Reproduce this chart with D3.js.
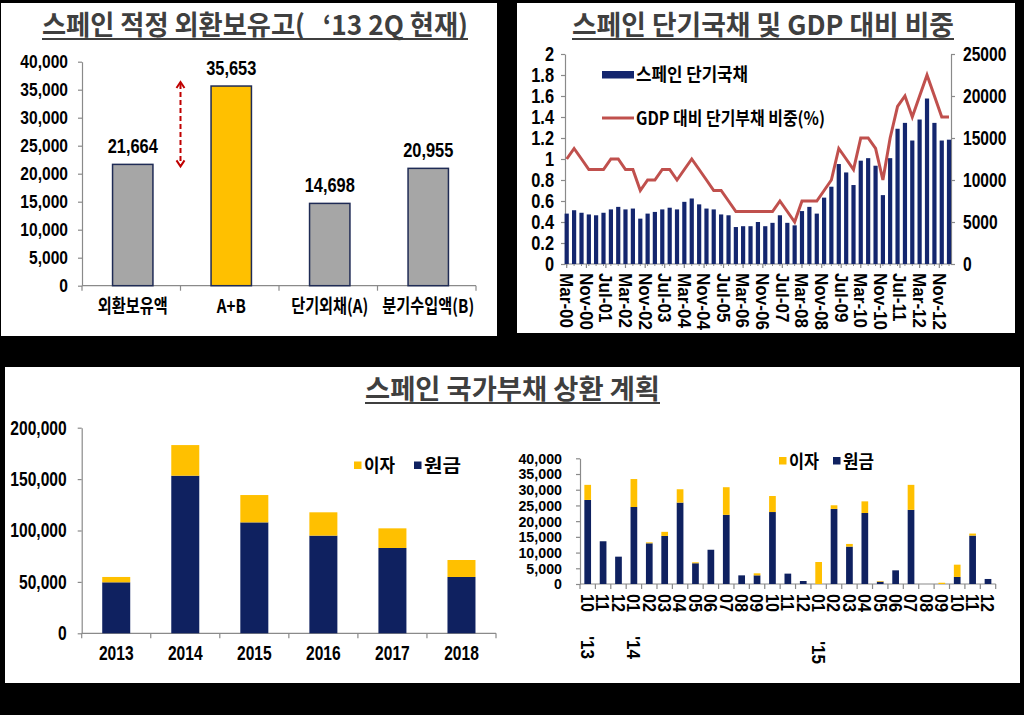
<!DOCTYPE html>
<html><head><meta charset="utf-8">
<script src="https://cdn.jsdelivr.net/npm/d3@7/dist/d3.min.js"></script>
<style>
body{margin:0;background:#000;}
svg{display:block;}
</style></head><body>
<svg id="c" width="1024" height="715"></svg>
<script>
// ---------- DATA ----------
// Panel 1: 스페인 적정 외환보유고
const fxCategories = ["외환보유액", "A+B", "단기외채(A)", "분기수입액(B)"];
const fxValues = [21664, 35653, 14698, 20955];
const fxTicks = [0, 5000, 10000, 15000, 20000, 25000, 30000, 35000, 40000];

// Panel 2: 스페인 단기국채 및 GDP 대비 비중 (quarterly, Mar-00 .. Mar-13)
const tbillLabels = ["Mar-00","Nov-00","Jul-01","Mar-02","Nov-02","Jul-03","Mar-04","Nov-04","Jul-05","Mar-06",
                     "Nov-06","Jul-07","Mar-08","Nov-08","Jul-09","Mar-10","Nov-10","Jul-11","Mar-12","Nov-12"];
const tbillStock = [6000,6400,6100,5900,5800,6100,6500,6800,6500,6600,
                    5400,6000,6200,6500,6700,6500,7400,7800,7100,6600,
                    6500,5900,5800,4400,4500,4500,5000,4500,4900,5800,
                    4900,4600,6300,6800,6000,7900,9200,11900,10900,9400,
                    12300,12600,11700,8200,12600,16100,16800,14700,17200,19700,
                    16800,14700,14800];
const gdpRatio = [1.0,1.1,1.0,0.9,0.9,0.9,1.0,1.0,0.9,0.9,
                  0.7,0.8,0.8,0.9,0.9,0.8,0.9,1.0,0.9,0.8,
                  0.7,0.7,0.6,0.5,0.5,0.5,0.5,0.5,0.5,0.6,
                  0.5,0.4,0.6,0.6,0.6,0.7,0.8,1.1,1.0,0.9,
                  1.2,1.2,1.1,0.8,1.2,1.5,1.6,1.4,1.6,1.8,
                  1.6,1.4,1.4];
const leftTicks = [0,0.2,0.4,0.6,0.8,1,1.2,1.4,1.6,1.8,2];
const rightTicks = [0,5000,10000,15000,20000,25000];

// Panel 3 left: yearly redemption
const years = ["2013","2014","2015","2016","2017","2018"];
const yearPrincipal = [49600,153300,107900,95000,83000,54800];
const yearInterest = [5200,29800,26600,22700,19100,16500];
const yearTicks = [0,50000,100000,150000,200000];

// Panel 3 right: monthly redemption Oct-13 .. Dec-15
const months = ["10","11","12","01","02","03","04","05","06","07","08","09","10","11","12",
                "01","02","03","04","05","06","07","08","09","10","11","12"];
const monthPrincipal = [26750,13600,8700,24500,12950,15300,25900,6600,10900,22000,2750,2750,22900,3300,950,
                        0,23900,11900,22600,750,4350,23600,0,0,2250,15400,1600];
const monthInterest = [4800,0,0,8900,300,1300,4250,300,0,8800,0,650,5100,0,0,
                       7000,1150,850,3700,200,0,7950,0,400,3900,650,0];
const monthTicks = [0,5000,10000,15000,20000,25000,30000,35000,40000];
const yearMarks = [{label:"'13", index:0}, {label:"'14", index:3}, {label:"'15", index:15}];

// ---------- STYLE ----------
const NUM = '"Liberation Sans",Arial,sans-serif';
const KR = '"Noto Sans CJK KR","Noto Sans CJK SC",sans-serif';
const NK = 0.82;
const NAVY = "#0f2160";
const NAVY2 = "#14266e";
const GOLD = "#ffc000";
const GRAY = "#a6a6a6";
const AXIS = "#8a8a8a";
const RED = "#c0504d";
const TITLE = "#3f3f3f";

const svg = d3.select("#c");
svg.append("rect").attr("width",1024).attr("height",715).attr("fill","#000");

function condense(sel, k){
  sel.each(function(){
    const w = this.getComputedTextLength();
    if (w > 0){ this.setAttribute("textLength", (w*k).toFixed(1)); this.setAttribute("lengthAdjust","spacingAndGlyphs"); }
  });
}
function numStyle(sel, size, k){
  sel.attr("fill","#000").style("font-family",NUM).style("font-size",(size||19)+"px").style("font-weight","bold");
  condense(sel, k||NK);
  return sel;
}
function styleAxis(g, size, k){
  g.select(".domain").attr("stroke", AXIS).attr("stroke-width",1.2);
  g.selectAll(".tick line").attr("stroke", AXIS).attr("stroke-width",1.2);
  numStyle(g.selectAll(".tick text"), size, k);
}
function title(g, text, cx, y, w){
  g.append("text").attr("x",cx).attr("y",y).attr("text-anchor","middle")
    .style("font-family",KR).style("font-size","27px").style("font-weight","bold").style("white-space","pre")
    .attr("fill",TITLE).text(text)
    .attr("textLength",w).attr("lengthAdjust","spacingAndGlyphs");
  g.append("line").attr("x1",cx-w/2).attr("x2",cx+w/2).attr("y1",y+4).attr("y2",y+4)
    .attr("stroke",TITLE).attr("stroke-width",2);
}

// ---------- PANELS ----------
svg.append("rect").attr("x",1).attr("y",3).attr("width",496).attr("height",333).attr("fill","#fff");
svg.append("rect").attr("x",517).attr("y",3).attr("width",498).attr("height",330).attr("fill","#fff");
svg.append("rect").attr("x",5).attr("y",367).attr("width",1015).attr("height",316).attr("fill","#fff");

// ---------- PANEL 1 ----------
{
  const g = svg.append("g");
  title(g, "스페인 적정 외환보유고(   ‘13 2Q 현재)", 255, 35, 426);
  const x = d3.scaleBand().domain(fxCategories).range([82,476]);
  const y = d3.scaleLinear().domain([0,40000]).range([285.7,61.7]);
  const ay = g.append("g").attr("transform","translate(82,0)")
    .call(d3.axisLeft(y).tickValues(fxTicks).tickFormat(d3.format(",")).tickSize(4).tickSizeOuter(0).tickPadding(10));
  styleAxis(ay);
  g.append("line").attr("x1",x.range()[0]).attr("x2",x.range()[1]).attr("y1",y(0)).attr("y2",y(0))
    .attr("stroke",AXIS).attr("stroke-width",1.2);
  const bounds = fxCategories.map(c=>x(c)).concat([x.range()[1]]);
  g.selectAll(".xt").data(bounds).join("line").attr("x1",d=>d).attr("x2",d=>d)
    .attr("y1",y(0)).attr("y2",y(0)+5).attr("stroke",AXIS).attr("stroke-width",1.2);
  const bw = x.bandwidth()*0.41;
  g.selectAll(".bar").data(fxCategories).join("rect")
    .attr("x",d=>x(d)+x.bandwidth()/2-bw/2+1.5).attr("width",bw)
    .attr("y",(d,i)=>y(fxValues[i])).attr("height",(d,i)=>y(0)-y(fxValues[i]))
    .attr("fill",(d,i)=>i===1?GOLD:GRAY).attr("stroke","#1f2b55").attr("stroke-width",1.5);
  numStyle(g.selectAll(".vl").data(fxCategories).join("text")
    .attr("x",d=>x(d)+x.bandwidth()/2+1.5).attr("y",(d,i)=>y(fxValues[i])-11)
    .attr("text-anchor","middle")
    .text((d,i)=>d3.format(",")(fxValues[i])), 20);
  const cl = g.selectAll(".cl").data(fxCategories).join("text")
    .attr("x",d=>x(d)+x.bandwidth()/2+1.5).attr("y",313)
    .attr("text-anchor","middle").style("font-family",KR).style("font-size","19px").style("font-weight","bold")
    .text(d=>d);
  condense(cl, 0.8);
  const ax = x(fxCategories[1]);
  const yTop = y(fxValues[1]) - 4, yBot = y(fxValues[0]) + 2;
  g.append("line").attr("x1",ax).attr("x2",ax).attr("y1",yTop+2).attr("y2",yBot-2)
    .attr("stroke","#c00000").attr("stroke-width",2).attr("stroke-dasharray","5,3");
  g.append("path").attr("d",`M${ax-4},${yTop+6}L${ax},${yTop}L${ax+4},${yTop+6}`)
    .attr("fill","none").attr("stroke","#c00000").attr("stroke-width",2);
  g.append("path").attr("d",`M${ax-4},${yBot-6}L${ax},${yBot}L${ax+4},${yBot-6}`)
    .attr("fill","none").attr("stroke","#c00000").attr("stroke-width",2);
}

// ---------- PANEL 2 ----------
{
  const g = svg.append("g");
  title(g, "스페인 단기국채 및 GDP 대비 비중", 763, 35, 382);
  const qDates = d3.timeMonth.range(new Date(2000,2,1), new Date(2013,3,1), 3);
  const parse = d3.timeParse("%b-%y");
  const tickDates = tbillLabels.map(parse);
  const x = d3.scaleTime().domain([qDates[0], qDates[qDates.length-1]]).range([566.7, 949]);
  const yL = d3.scaleLinear().domain([0,2]).range([264,54]);
  const yR = d3.scaleLinear().domain([0,25000]).range([264,54]);
  const aL = g.append("g").attr("transform","translate(565,0)")
    .call(d3.axisLeft(yL).tickValues(leftTicks).tickFormat(d=>String(d)).tickSize(4).tickSizeOuter(0).tickPadding(7));
  styleAxis(aL, 20);
  const aR = g.append("g").attr("transform","translate(951,0)")
    .call(d3.axisRight(yR).tickValues(rightTicks).tickFormat(d=>String(d)).tickSize(4).tickSizeOuter(0).tickPadding(8));
  styleAxis(aR, 20, 0.78);
  g.append("line").attr("x1",565).attr("x2",951).attr("y1",yL(0)).attr("y2",yL(0))
    .attr("stroke",AXIS).attr("stroke-width",1.2);
  g.selectAll(".mt").data(qDates).join("line").attr("x1",d=>x(d)).attr("x2",d=>x(d))
    .attr("y1",yL(0)).attr("y2",yL(0)+2).attr("stroke",AXIS);
  g.selectAll(".xt").data(tickDates).join("line").attr("x1",d=>x(d)).attr("x2",d=>x(d))
    .attr("y1",yL(0)).attr("y2",yL(0)+4).attr("stroke",AXIS).attr("stroke-width",1.2);
  numStyle(g.selectAll(".xl").data(tickDates).join("text")
    .attr("transform",d=>`translate(${x(d)},${yL(0)+9}) rotate(90)`).attr("dy","0.35em")
    .text((d,i)=>tbillLabels[i]), 19, 0.9);
  g.selectAll(".bar").data(qDates).join("rect")
    .attr("x",d=>x(d)-2.1).attr("width",4.2)
    .attr("y",(d,i)=>yR(tbillStock[i])).attr("height",(d,i)=>yR(0)-yR(tbillStock[i]))
    .attr("fill",NAVY2);
  const line = d3.line().x((d,i)=>x(qDates[i])).y(d=>yL(d));
  g.append("path").datum(gdpRatio).attr("d",line).attr("fill","none")
    .attr("stroke",RED).attr("stroke-width",3);
  g.append("rect").attr("x",602).attr("y",71).attr("width",32).attr("height",7.5).attr("fill",NAVY2);
  g.append("text").attr("x",636).attr("y",81).style("font-family",KR).style("font-size","18px")
    .style("font-weight","bold").text("스페인 단기국채").attr("textLength",112).attr("lengthAdjust","spacingAndGlyphs");
  g.append("line").attr("x1",602).attr("x2",634).attr("y1",118).attr("y2",118).attr("stroke",RED).attr("stroke-width",3);
  g.append("text").attr("x",636).attr("y",125).style("font-family",KR).style("font-size","18px")
    .style("font-weight","bold").text("GDP 대비 단기부채 비중(%)").attr("textLength",189).attr("lengthAdjust","spacingAndGlyphs");
}

// ---------- PANEL 3 ----------
{
  const g = svg.append("g");
  title(g, "스페인 국가부채 상환 계획", 512.5, 399, 295);

  const x = d3.scaleBand().domain(years).range([81.7,496]);
  const y = d3.scaleLinear().domain([0,200000]).range([633.3,427.7]);
  const ay = g.append("g").attr("transform","translate(81.7,0)")
    .call(d3.axisLeft(y).tickValues(yearTicks).tickFormat(d3.format(",")).tickSize(4).tickSizeOuter(0).tickPadding(11));
  styleAxis(ay, 20, 0.78);
  g.append("line").attr("x1",x.range()[0]).attr("x2",x.range()[1]).attr("y1",y(0)).attr("y2",y(0))
    .attr("stroke",AXIS).attr("stroke-width",1.2);
  const bnd = years.map(c=>x(c)).concat([x.range()[1]]);
  g.selectAll(".xt1").data(bnd).join("line").attr("x1",d=>d).attr("x2",d=>d)
    .attr("y1",y(0)).attr("y2",y(0)+5).attr("stroke",AXIS).attr("stroke-width",1.2);
  const bw = 28;
  g.selectAll(".pb").data(years).join("rect")
    .attr("x",d=>x(d)+x.bandwidth()/2-bw/2).attr("width",bw)
    .attr("y",(d,i)=>y(yearPrincipal[i])).attr("height",(d,i)=>y(0)-y(yearPrincipal[i])).attr("fill",NAVY);
  g.selectAll(".ib").data(years).join("rect")
    .attr("x",d=>x(d)+x.bandwidth()/2-bw/2).attr("width",bw)
    .attr("y",(d,i)=>y(yearPrincipal[i]+yearInterest[i])).attr("height",(d,i)=>y(yearPrincipal[i])-y(yearPrincipal[i]+yearInterest[i])).attr("fill",GOLD);
  numStyle(g.selectAll(".yl").data(years).join("text")
    .attr("x",d=>x(d)+x.bandwidth()/2).attr("y",660).attr("text-anchor","middle").text(d=>d), 20, 0.78);
  g.append("rect").attr("x",354).attr("y",461.5).attr("width",7.5).attr("height",7.5).attr("fill",GOLD);
  g.append("text").attr("x",364).attr("y",472).style("font-family",KR).style("font-size","18px").style("font-weight","bold")
    .text("이자").attr("textLength",31).attr("lengthAdjust","spacingAndGlyphs");
  g.append("rect").attr("x",414).attr("y",461.5).attr("width",7.5).attr("height",7.5).attr("fill",NAVY);
  g.append("text").attr("x",424).attr("y",472).style("font-family",KR).style("font-size","18px").style("font-weight","bold")
    .text("원금").attr("textLength",37).attr("lengthAdjust","spacingAndGlyphs");

  const x2 = d3.scaleBand().domain(d3.range(months.length)).range([580,995.7]);
  const y2 = d3.scaleLinear().domain([0,40000]).range([584,458.3]);
  const ay2 = g.append("g").attr("transform","translate(580,0)")
    .call(d3.axisLeft(y2).tickValues(monthTicks).tickFormat(d3.format(",")).tickSize(4).tickSizeOuter(0).tickPadding(14));
  styleAxis(ay2, 15.5, 0.92);
  g.append("line").attr("x1",580).attr("x2",995.7).attr("y1",y2(0)).attr("y2",y2(0))
    .attr("stroke",AXIS).attr("stroke-width",1.2);
  const bnd2 = d3.range(months.length).map(i=>x2(i)).concat([x2.range()[1]]);
  g.selectAll(".xt2").data(bnd2).join("line").attr("x1",d=>d).attr("x2",d=>d)
    .attr("y1",y2(0)).attr("y2",y2(0)+5).attr("stroke",AXIS).attr("stroke-width",1.2);
  const bw2 = 6.7;
  g.selectAll(".pb2").data(months).join("rect")
    .attr("x",(d,i)=>x2(i)+x2.bandwidth()/2-bw2/2).attr("width",bw2)
    .attr("y",(d,i)=>y2(monthPrincipal[i])).attr("height",(d,i)=>y2(0)-y2(monthPrincipal[i])).attr("fill",NAVY);
  g.selectAll(".ib2").data(months).join("rect")
    .attr("x",(d,i)=>x2(i)+x2.bandwidth()/2-bw2/2).attr("width",bw2)
    .attr("y",(d,i)=>y2(monthPrincipal[i]+monthInterest[i])).attr("height",(d,i)=>y2(monthPrincipal[i])-y2(monthPrincipal[i]+monthInterest[i])).attr("fill",GOLD);
  numStyle(g.selectAll(".ml").data(months).join("text")
    .attr("transform",(d,i)=>`translate(${x2(i)+x2.bandwidth()/2},${y2(0)+10}) rotate(90)`).attr("dy","0.35em")
    .text(d=>d), 19, 0.85);
  numStyle(g.selectAll(".ym").data(yearMarks).join("text")
    .attr("transform",d=>`translate(${x2(d.index)+x2.bandwidth()/2},${d.index===15?641:636}) rotate(90)`).attr("dy","0.35em")
    .text(d=>d.label), 19, 0.9);
  g.append("rect").attr("x",779).attr("y",457).attr("width",7.5).attr("height",7.5).attr("fill",GOLD);
  g.append("text").attr("x",789).attr("y",468).style("font-family",KR).style("font-size","18px").style("font-weight","bold")
    .text("이자").attr("textLength",30).attr("lengthAdjust","spacingAndGlyphs");
  g.append("rect").attr("x",833).attr("y",457).attr("width",7.5).attr("height",7.5).attr("fill",NAVY);
  g.append("text").attr("x",843).attr("y",468).style("font-family",KR).style("font-size","18px").style("font-weight","bold")
    .text("원금").attr("textLength",31).attr("lengthAdjust","spacingAndGlyphs");
}
</script>
</body></html>
